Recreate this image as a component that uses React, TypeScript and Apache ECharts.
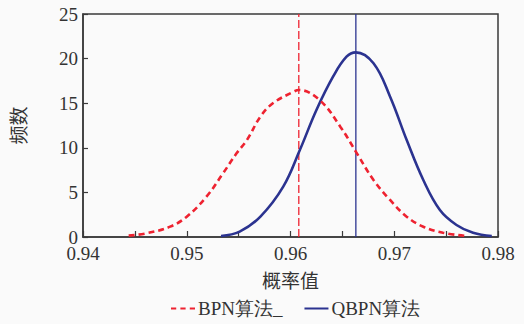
import React, { useEffect, useRef } from "react";
import * as echarts from "echarts";

const xTickLabels = ["0.94", "0.95", "0.96", "0.97", "0.98"];
const yTickLabels = ["0", "5", "10", "15", "20", "25"];

const bpnX = [0.9444, 0.9461, 0.9484, 0.95, 0.9519, 0.9535, 0.9548, 0.9558, 0.9571, 0.9583, 0.9603, 0.9608, 0.9628, 0.9648, 0.9664, 0.968, 0.9696, 0.9712, 0.9728, 0.9747, 0.977];
const bpnY = [0.15, 0.41, 1.16, 2.28, 4.52, 7.14, 9.38, 10.87, 13.49, 14.99, 16.29, 16.48, 15.36, 12.37, 9.38, 6.39, 4.15, 2.28, 1.15, 0.48, 0.11];

const qbpnX = [0.9533, 0.9551, 0.9571, 0.9593, 0.9609, 0.9625, 0.9641, 0.9654, 0.9663, 0.968, 0.9696, 0.9712, 0.9728, 0.9744, 0.976, 0.9776, 0.9794];
const qbpnY = [0.12, 0.6, 2.28, 5.64, 9.75, 14.24, 17.97, 20.21, 20.7, 19.47, 15.73, 10.87, 6.39, 3.03, 1.35, 0.48, 0.11];

const bpnMean = 0.9608;
const qbpnMean = 0.9663;
const yTop = 25;

const RED = "#ee2230";
const BLUE = "#2b3390";
const FONT = "'Liberation Serif', 'Times New Roman', serif";
const CJK = "'Noto Sans CJK SC', sans-serif";

export default function App() {
  const ref = useRef<HTMLDivElement>(null);
  useEffect(() => {
    if (!ref.current) return;
    const chart = echarts.init(ref.current, null, { renderer: "svg" });
    const bpn = bpnX.map((x, i) => [x, bpnY[i]]);
    const qbpn = qbpnX.map((x, i) => [x, qbpnY[i]]);
    chart.setOption({
      animation: false,
      backgroundColor: "#fafafa",
      grid: {
        left: 83,
        right: 26,
        top: 14,
        bottom: 87,
        show: true,
        borderColor: "#3a3a3a",
        borderWidth: 1.5,
        backgroundColor: "transparent",
      },
      xAxis: {
        type: "value",
        min: 0.94,
        max: 0.98,
        interval: 0.005,
        name: "概率值",
        nameLocation: "middle",
        nameGap: 33,
        nameTextStyle: { fontFamily: CJK, fontSize: 19, color: "#333" },
        axisLine: { show: true, lineStyle: { color: "#3a3a3a", width: 1.5 } },
        axisTick: { show: true, inside: true, length: 6, lineStyle: { color: "#3a3a3a", width: 1.2 } },
        splitLine: { show: false },
        axisLabel: {
          margin: 7,
          fontFamily: FONT,
          fontSize: 19,
          color: "#333",
          showMinLabel: true,
          showMaxLabel: true,
          formatter: (v: number) => {
            const k = Math.round(v * 1000);
            if (k % 10 !== 0) return "";
            const lbl = (k / 1000).toFixed(2);
            return xTickLabels.includes(lbl) ? lbl : "";
          },
        },
      },
      yAxis: {
        type: "value",
        min: 0,
        max: 25,
        interval: 5,
        name: "频数",
        nameLocation: "middle",
        nameGap: 56,
        nameTextStyle: { fontFamily: CJK, fontSize: 19, color: "#333" },
        axisLine: { show: true, lineStyle: { color: "#3a3a3a", width: 1.5 } },
        axisTick: { show: true, inside: true, length: 5, lineStyle: { color: "#3a3a3a", width: 1.2 } },
        splitLine: { show: false },
        axisLabel: {
          margin: 5,
          fontFamily: FONT,
          fontSize: 19,
          color: "#333",
          formatter: (v: number) => (yTickLabels.includes(String(v)) ? String(v) : ""),
        },
      },
      legend: {
        bottom: 1,
        left: 166,
        itemWidth: 24,
        itemHeight: 3,
        itemGap: 22,
        textStyle: { fontFamily: FONT, fontSize: 19, color: "#333", padding: [0, 0, 0, -2] },
        data: [
          { name: "BPN算法_", icon: "path://M0,0h5v2h-5z M9,0h5v2h-5z M18,0h5v2h-5z" },
          { name: "QBPN算法", icon: "path://M0,0h24v2h-24z" },
        ],
      },
      series: [
        {
          name: "BPN算法_",
          type: "line",
          data: bpn,
          smooth: 0.4,
          symbol: "none",
          lineStyle: { color: RED, width: 2.6, type: [6, 4] },
          itemStyle: { color: RED },
          z: 3,
        },
        {
          name: "QBPN算法",
          type: "line",
          data: qbpn,
          smooth: 0.4,
          symbol: "none",
          lineStyle: { color: BLUE, width: 2.6, type: "solid" },
          itemStyle: { color: BLUE },
          z: 2,
        },
        {
          name: "bpnMean",
          type: "line",
          data: [[bpnMean, 0], [bpnMean, yTop]],
          symbol: "none",
          silent: true,
          lineStyle: { color: RED, width: 1.3, type: [8, 3] },
          z: 1,
        },
        {
          name: "qbpnMean",
          type: "line",
          data: [[qbpnMean, 0], [qbpnMean, yTop]],
          symbol: "none",
          silent: true,
          lineStyle: { color: BLUE, width: 1.3, type: "solid" },
          z: 1,
        },
      ],
    });
    return () => chart.dispose();
  }, []);
  return (
    <div
      ref={ref}
      style={{ position: "fixed", left: 0, top: 0, width: 524, height: 324 }}
    />
  );
}
